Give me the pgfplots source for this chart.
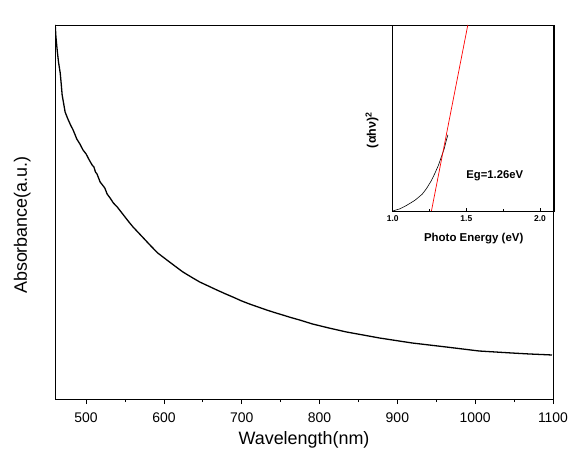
\documentclass[border=0pt]{standalone}
\usepackage{fontspec}
\setmainfont{Liberation Sans}
\usepackage{pgfplots}
\pgfplotsset{compat=1.18}
\begin{document}
\begin{tikzpicture}
\path[use as bounding box] (-55bp,-57bp) rectangle (517bp,399bp);
\begin{axis}[
  scale only axis, width=498bp, height=374bp,
  xmin=460, xmax=1100, ymin=0, ymax=374,
  axis line style={line width=0.9pt},
  xtick={500,600,...,1100}, minor xtick={550,650,...,1050},
  ytick=\empty,
  xtick pos=bottom, tick align=outside,
  major tick length=5bp, minor tick length=3bp,
  every tick/.style={black, line width=0.8pt},
  /pgf/number format/assume math mode=true,
  /pgf/number format/1000 sep={},
  tick label style={font=\fontsize{14}{16}\selectfont},
  xticklabel style={yshift=-5bp},
  xlabel={Wavelength(nm)}, ylabel={Absorbance(a.u.)},
  label style={font=\fontsize{18}{21}\selectfont},
  xlabel style={at={(axis description cs:0.5,-0.11)}, anchor=center},
  ylabel style={at={(axis description cs:-0.066,0.465)}, anchor=center},
]
\addplot[black, line width=1.3pt] coordinates {
(460.3,374) (461.2,362) (462.8,349) (464.5,337) (466.7,326) (468,315) (469.2,304) (471,296) (473,287) (473.5,286)
(476,281) (480,274) (483.3,269) (488,260) (492,255) (496,249) (500,245) (504,239) (507.7,234) (510,232) (512,227)
(514,225) (516,221) (518,217) (521,214) (524,211) (527,205) (530.8,201) (535,196) (540,192) (545,187) (550,182)
(555,177) (560.3,172) (570,164) (582,154) (592,146) (603.8,139) (614,133) (624.4,127) (635,122) (646,117)
(657,113) (668,109) (678,105.5) (688.5,102) (700,98) (710,95) (721,92) (732,89) (742,86.5) (752.6,84)
(763,81.5) (774.4,79) (791,75) (812,71) (834.6,67) (856,64) (877,61) (898,58.5) (919,56) (941,54)
(962.8,52) (984,50) (1005,48) (1026,47) (1047,46) (1070,45) (1085,44.5) (1098.7,44)
};
\end{axis}
\begin{axis}[
  at={(337.7bp,188bp)}, anchor=south west,
  scale only axis, width=162bp, height=186bp,
  xmin=1.0, xmax=2.1, ymin=0, ymax=1,
  axis line style={line width=0.8pt},
  xtick={1.0,1.5,2.0}, minor xtick={1.25,1.75},
  ytick=\empty,
  xtick pos=bottom, tick align=inside,
  major tick length=3bp, minor tick length=2bp,
  every tick/.style={black, line width=0.6pt},
  /pgf/number format/.cd, fixed, fixed zerofill, precision=1, assume math mode=true, /pgfplots/.cd,
  tick label style={font=\bfseries\fontsize{8.5}{10}\selectfont},
  xticklabel style={yshift=-1.5bp},
  xlabel={\textbf{Photo Energy (eV)}},
  ylabel={\textbf{(αhν)\textsuperscript{2}}},
  xlabel style={font=\fontsize{11.5}{13}\selectfont, at={(axis description cs:0.5,-0.15)}, anchor=center},
  ylabel style={font=\fontsize{12.5}{14}\selectfont, at={(axis description cs:-0.128,0.435)}, anchor=center},
]
\addplot[black, line width=0.6pt] coordinates {
(1.0,0) (1.05,0.012) (1.094,0.03) (1.15,0.057) (1.2,0.09) (1.229,0.12) (1.26,0.16) (1.285,0.2)
(1.31,0.245) (1.33,0.29) (1.35,0.335) (1.364,0.38) (1.375,0.41)
};
\addplot[red, line width=0.7pt] coordinates {(1.263,0) (1.51,1)};
\node[font=\fontsize{11.3}{13}\selectfont] at (axis cs:1.693,0.188) {\textbf{Eg=1.26eV}};
\end{axis}
\end{tikzpicture}
\end{document}
